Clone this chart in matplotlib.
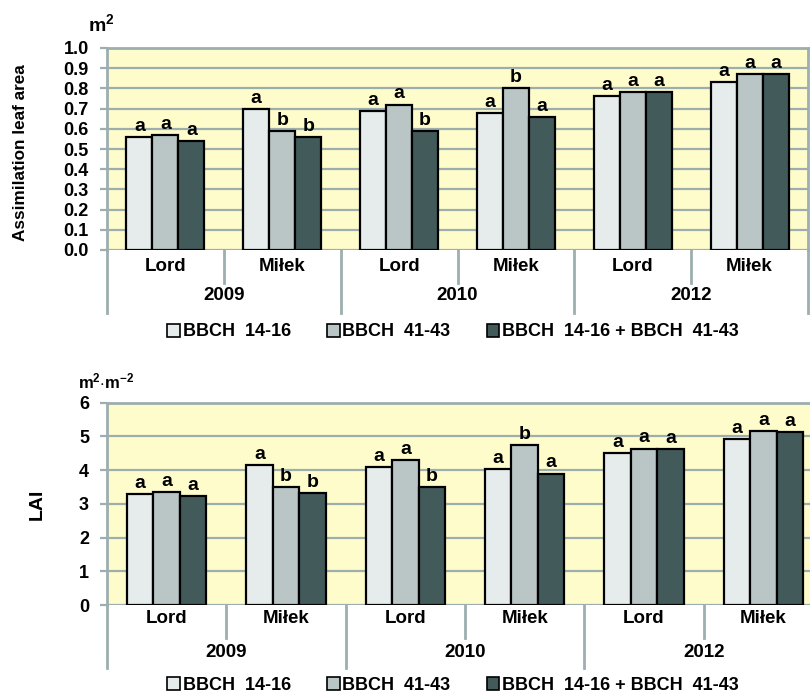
import numpy as np
import matplotlib
matplotlib.use("Agg")
from matplotlib import pyplot as plt
from matplotlib.patches import Patch
import matplotlib.transforms as mtransforms

plt.rcParams['font.family'] = ['Liberation Sans', 'DejaVu Sans']
plt.rcParams['font.weight'] = 'bold'
plt.rcParams['mathtext.fontset'] = 'custom'
plt.rcParams['mathtext.rm'] = 'Liberation Sans:bold'
plt.rcParams['mathtext.bf'] = 'Liberation Sans:bold'
plt.rcParams['mathtext.default'] = 'bf'

# order: 2009 Lord, 2009 Miłek, 2010 Lord, 2010 Miłek, 2012 Lord, 2012 Miłek
varieties = ['Lord', 'Miłek', 'Lord', 'Miłek', 'Lord', 'Miłek']
years = ['2009', '2010', '2012']
series_names = ['BBCH  14-16', 'BBCH  41-43', 'BBCH  14-16 + BBCH  41-43']

area_1416 = [0.56, 0.70, 0.69, 0.68, 0.76, 0.83]
area_4143 = [0.57, 0.59, 0.72, 0.80, 0.78, 0.87]
area_both = [0.54, 0.56, 0.59, 0.66, 0.78, 0.87]

lai_1416 = [3.28, 4.15, 4.08, 4.04, 4.50, 4.93]
lai_4143 = [3.36, 3.50, 4.29, 4.75, 4.64, 5.15]
lai_both = [3.24, 3.32, 3.51, 3.90, 4.62, 5.13]

letters_1416 = ['a', 'a', 'a', 'a', 'a', 'a']
letters_4143 = ['a', 'b', 'a', 'b', 'a', 'a']
letters_both = ['a', 'b', 'b', 'a', 'a', 'a']

colors = ['#E6ECEC', '#BAC6C6', '#435A5A']
grid_col = '#9DAEAE'
bg_col = '#FFFCCC'


def draw_panel(ax, values, letters, ymax, yticks, ticklabels, cat_y, year_y, minor_len, major_len):
    ax.set_facecolor(bg_col)
    x = np.arange(len(varieties)) + 0.5
    w = 2 / 9
    for k, (vals, lets) in enumerate(zip(values, letters)):
        xs = x + (k - 1) * w
        ax.bar(xs, vals, width=w, color=colors[k], edgecolor='black', linewidth=1.6, zorder=3)
        for xi, v, l in zip(xs, vals, lets):
            ax.annotate(l, (xi, v), xytext=(0, 1.5), textcoords='offset points',
                        ha='center', va='bottom', fontsize=14, fontweight='bold')
    ax.set_xlim(0, 6)
    ax.set_ylim(0, ymax)
    ax.set_yticks(yticks)
    ax.set_yticklabels(ticklabels, fontsize=13, fontweight='bold')
    ax.set_xticks([])
    ax.grid(axis='y', color=grid_col, linewidth=1.6, zorder=1)
    ax.tick_params(axis='y', length=5, width=1.6, color=grid_col, pad=8)
    for s in ax.spines.values():
        s.set_color(grid_col)
        s.set_linewidth(2)
    ax.spines['bottom'].set_visible(False)

    trans = mtransforms.blended_transform_factory(ax.transData, ax.transAxes)
    # separators below the axis
    for i in range(7):
        ln = major_len if i % 2 == 0 else minor_len
        ax.plot([i, i], [0, -ln], transform=trans, color=grid_col, linewidth=2,
                clip_on=False, zorder=2)
    for i, name in enumerate(varieties):
        ax.text(i + 0.5, cat_y, name, transform=trans, ha='center', va='center',
                fontsize=13.5, fontweight='bold')
    for j, yr in enumerate(years):
        ax.text(2 * j + 1, year_y, yr, transform=trans, ha='center', va='center',
                fontsize=13.5, fontweight='bold')


fig = plt.figure(figsize=(8.1, 6.95), dpi=100)

ax1 = fig.add_axes([107 / 810, 1 - 250 / 695, 701 / 810, 202 / 695])
draw_panel(ax1, [area_1416, area_4143, area_both], [letters_1416, letters_4143, letters_both],
           1.0, np.arange(0, 1.01, 0.1), ['%.1f' % v for v in np.arange(0, 1.01, 0.1)],
           -0.084, -0.223, 0.163, 0.312)
ax1.set_ylabel('Assimilation leaf area', fontsize=12.3, fontweight='bold')
ax1.yaxis.set_label_coords(-0.112, 0.48)
fig.text(88 / 810, 1 - 24 / 695, r'm$^{2}$', fontsize=14, fontweight='bold', ha='left', va='center')

ax2 = fig.add_axes([107 / 810, 1 - 605 / 695, 716 / 810, 202.3 / 695])
draw_panel(ax2, [lai_1416, lai_4143, lai_both], [letters_1416, letters_4143, letters_both],
           6, np.arange(0, 7), [str(v) for v in range(7)],
           -0.069, -0.237, 0.163, 0.311)
ax2.set_ylabel('LAI', fontsize=14, fontweight='bold')
ax2.yaxis.set_label_coords(-0.085, 0.5)
fig.text(78 / 810, 1 - 381 / 695, r'm$^{2}$$\cdot$m$^{-2}$', fontsize=12, fontweight='bold',
         ha='left', va='center')

handles = [Patch(facecolor=c, edgecolor='black', linewidth=1.2) for c in colors]
for y in [1 - 332 / 695, 1 - 685 / 695]:
    fig.legend(handles, series_names, loc='center', bbox_to_anchor=(453 / 810, y),
               ncol=3, frameon=False, fontsize=13, handlelength=0.7, handleheight=0.7,
               handletextpad=0.15, columnspacing=2.0, borderaxespad=0, borderpad=0)

fig.savefig('out.png', dpi=100)
